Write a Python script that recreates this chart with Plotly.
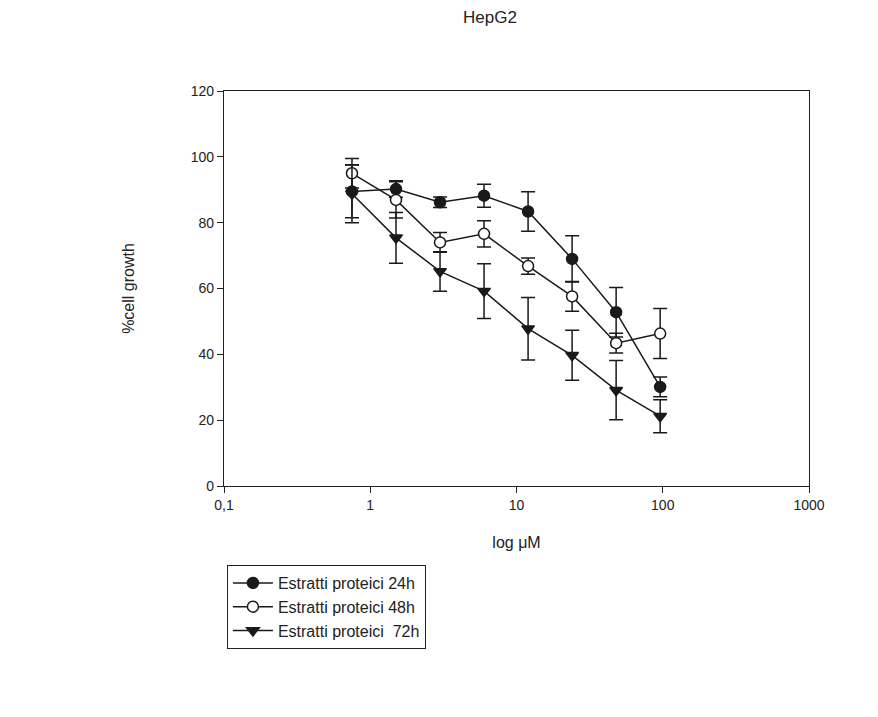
import plotly.graph_objects as go

conc = [0.75, 1.5, 3, 6, 12, 24, 48, 96]
g24 = [89.5, 90.2, 86.2, 88.2, 83.4, 69.0, 52.8, 30.1]
e24 = [8.0, 2.5, 1.6, 3.5, 6.0, 7.0, 7.5, 3.0]
g48 = [95.0, 86.9, 74.0, 76.6, 66.8, 57.6, 43.4, 46.3]
e48 = [4.5, 5.5, 3.0, 4.0, 2.5, 4.5, 3.0, 7.6]
g72 = [88.8, 75.4, 65.2, 59.2, 47.8, 39.7, 29.1, 21.2]
e72 = [8.8, 7.7, 6.0, 8.3, 9.5, 7.6, 9.0, 5.0]

names = ["Estratti proteici 24h", "Estratti proteici 48h", "Estratti proteici  72h"]
xtick_vals = [0.1, 1, 10, 100, 1000]
xtick_text = ["0,1", "1", "10", "100", "1000"]

ink = "#1a1a1a"
fig = go.Figure()
series = [
    (g24, e24, "circle", ink, ink),
    (g48, e48, "circle", "white", ink),
    (g72, e72, "triangle-down", ink, ink),
]
for (vals, errs, sym, fill, col), nm in zip(series, names):
    fig.add_trace(go.Scatter(
        x=conc, y=vals, name=nm, mode="lines+markers",
        line=dict(color=col, width=1.5),
        marker=dict(symbol=sym, size=11, color=fill, line=dict(color=col, width=1.5)),
        error_y=dict(type="data", array=errs, visible=True, color=col, thickness=1.5, width=7),
    ))

fig.update_layout(
    width=878, height=717,
    paper_bgcolor="white", plot_bgcolor="white",
    margin=dict(l=224, r=69, t=91, b=231),
    font=dict(family="Liberation Sans, Arial, sans-serif", size=14, color="#222"),
    title=dict(text="HepG2", x=0.558, xanchor="center", y=0.985, yanchor="top",
               font=dict(size=17, color="#222")),
    showlegend=True,
    legend=dict(x=0.005, xanchor="left", y=-0.2, yanchor="top",
                bordercolor="#222", borderwidth=1, bgcolor="white",
                font=dict(size=16, color="#222"), tracegroupgap=0,
                itemwidth=40, traceorder="normal"),
)
fig.update_xaxes(
    type="log", range=[-1, 3],
    tickvals=xtick_vals, ticktext=xtick_text,
    ticks="outside", ticklen=6, tickcolor="#222", tickwidth=1,
    showline=True, linecolor="#222", linewidth=1.2, mirror=True,
    showgrid=False, zeroline=False,
    title=dict(text="log μM", font=dict(size=16, color="#222"), standoff=24),
    tickfont=dict(size=14),
)
fig.update_yaxes(
    range=[0, 120], tickvals=[0, 20, 40, 60, 80, 100, 120],
    ticks="outside", ticklen=6, tickcolor="#222", tickwidth=1,
    showline=True, linecolor="#222", linewidth=1.2, mirror=True,
    showgrid=False, zeroline=False,
    title=dict(text="%cell growth", font=dict(size=16, color="#222"), standoff=52),
    tickfont=dict(size=14),
)
fig.write_html("out.html")
